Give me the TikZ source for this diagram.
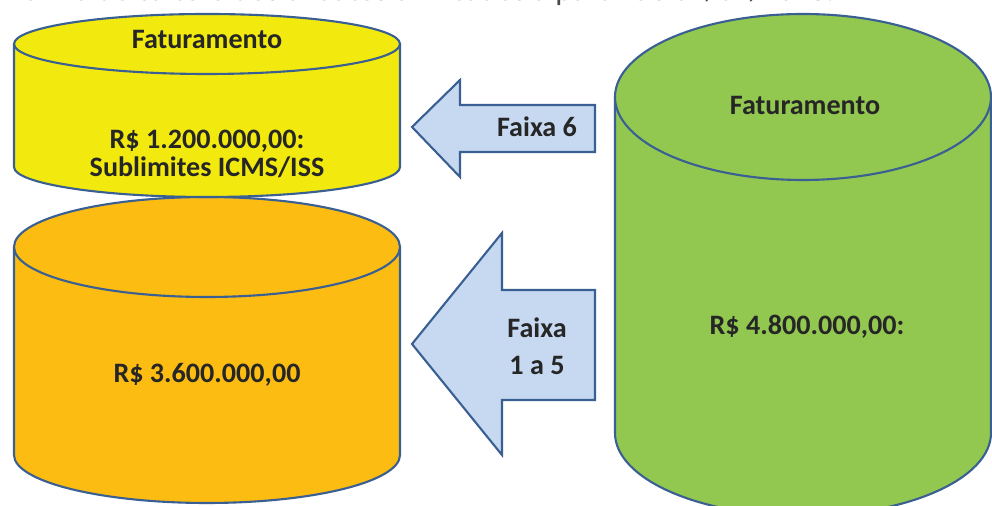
\documentclass[tikz,border=0pt]{standalone}
\usepackage{fontspec}
\setmainfont{Carlito}
\usetikzlibrary{positioning}

\definecolor{borderblue}{HTML}{3A5F92}
\definecolor{drumyellow}{HTML}{F2EA0E}
\definecolor{drumorange}{HTML}{FCBC12}
\definecolor{drumgreen}{HTML}{92C850}
\definecolor{arrowblue}{HTML}{C6D9F1}
\definecolor{textdark}{HTML}{262626}
\definecolor{captiongray}{HTML}{4A4A4A}

\tikzset{
  drum/.style={draw=borderblue, line width=1.2pt, line join=round},
  bigarrow/.style={draw=borderblue, fill=arrowblue, line width=1.2pt, line join=miter},
  drumtext/.style={font=\fontsize{16}{16}\selectfont\bfseries, text=textdark, inner sep=0pt, align=center},
}

\begin{document}
\begin{tikzpicture}[x=0.02cm, y=0.02cm]
    \useasboundingbox (0,0) rectangle (992,506);
    % caption cut off at the top
    \node[anchor=base west, inner sep=0pt, font=\fontsize{18}{20}\selectfont, text=captiongray] (caption) at (13,505)
        {forma de cálculo dos tributos unificados a partir de 01/01/2018.};
    % lower drum (orange)
    \draw[drum, fill=drumorange] (14,259) -- (14,51)
        arc[start angle=180, end angle=360, x radius=193, y radius=48] -- (400,259) -- cycle;
    \draw[drum, fill=drumorange] (207,259) ellipse [x radius=193, y radius=50];
    % upper drum (yellow)
    \draw[drum, fill=drumyellow] (14,462) -- (14,339)
        arc[start angle=180, end angle=360, x radius=193, y radius=30] -- (400,462) -- cycle;
    \draw[drum, fill=drumyellow] (207,462) ellipse [x radius=193, y radius=30];
    % right drum (green)
    \draw[drum, fill=drumgreen] (615,409) -- (615,73)
        arc[start angle=180, end angle=360, x radius=188, y radius=83] -- (991,409) -- cycle;
    \draw[drum, fill=drumgreen] (803,409) ellipse [x radius=188, y radius=83];
    % arrows
    \draw[bigarrow] (412,379) -- (460,426) -- (460,401) -- (595,401)
        -- (595,354) -- (460,354) -- (460,329) -- cycle;
    \draw[bigarrow] (412,162) -- (502,273) -- (502,216) -- (595,216)
        -- (595,106) -- (502,106) -- (502,51) -- cycle;
    % set up the texts
    \node[drumtext] (yTitle) at (207,466) {Faturamento};
    \node[drumtext, font=\fontsize{16}{16}\selectfont\bfseries] (yValue) at (207,352)
        {R\$ 1.200.000,00:\\Sublimites ICMS/ISS};
    \node[drumtext] (oValue) at (207,131) {R\$ 3.600.000,00};
    \node[drumtext] (gTitle) at (805,400) {Faturamento};
    \node[drumtext] (gValue) at (807,179) {R\$ 4.800.000,00:};
    \node[drumtext] (band6) at (537,379) {Faixa 6};
    \node[drumtext, font=\fontsize{16}{21}\selectfont\bfseries] (band15) at (537,160)
        {Faixa\\1 a 5};
\end{tikzpicture}
\end{document}
